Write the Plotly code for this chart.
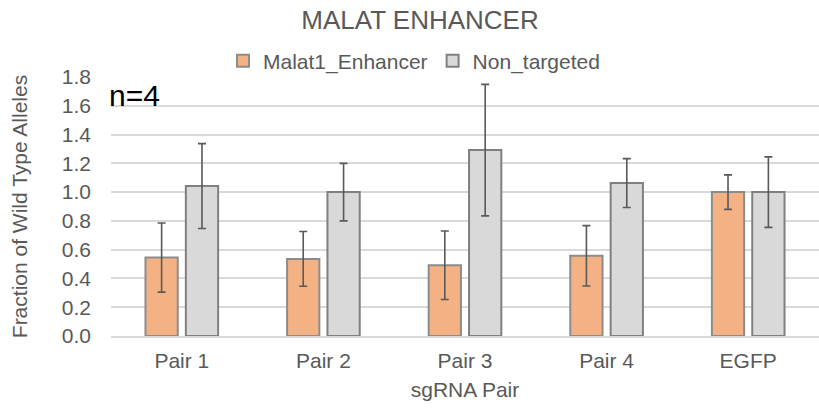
import plotly.graph_objects as go

categories = ["Pair 1", "Pair 2", "Pair 3", "Pair 4", "EGFP"]
malat_vals = [0.545, 0.536, 0.492, 0.557, 1.0]
malat_err = [0.24, 0.19, 0.238, 0.21, 0.12]
nt_vals = [1.042, 1.0, 1.292, 1.063, 1.0]
nt_err = [0.295, 0.2, 0.457, 0.17, 0.245]
y_ticks = [0.0, 0.2, 0.4, 0.6, 0.8, 1.0, 1.2, 1.4, 1.6, 1.8]

FONT = "Liberation Sans, Arial, sans-serif"
GREY = "#595959"

fig = go.Figure()
fig.add_trace(go.Bar(
    name="Malat1_Enhancer", x=categories, y=malat_vals,
    marker=dict(color="#F4B183", line=dict(color="#8C8C8C", width=2)),
    error_y=dict(type="data", array=malat_err, color=GREY, thickness=1.6, width=4),
))
fig.add_trace(go.Bar(
    name="Non_targeted", x=categories, y=nt_vals,
    marker=dict(color="#D9D9D9", line=dict(color="#808080", width=2)),
    error_y=dict(type="data", array=nt_err, color=GREY, thickness=1.6, width=4),
))

fig.update_layout(
    width=819, height=412,
    margin=dict(l=111, r=0, t=77, b=76, autoexpand=False),
    paper_bgcolor="white", plot_bgcolor="white",
    barmode="group", bargap=0.43, bargroupgap=0.2,
    font=dict(family=FONT, color=GREY, size=20),
    title=dict(text="MALAT ENHANCER", x=420/819, xref="container", xanchor="center",
               y=1 - 20/412, yref="container", yanchor="middle",
               font=dict(size=26, color=GREY, family=FONT)),
    legend=dict(orientation="h", x=414/819, xanchor="center", xref="container",
                y=1 - 61/412, yref="container", yanchor="middle",
                font=dict(size=21, color=GREY, family=FONT),
                itemwidth=30, tracegroupgap=0),
    showlegend=True,
    xaxis=dict(showgrid=False, showline=True, linecolor="#D9D9D9", linewidth=2,
               ticks="", tickfont=dict(size=21, color=GREY), ticklabelstandoff=5,
               automargin=False,
               title=dict(text="sgRNA Pair", font=dict(size=21, color=GREY), standoff=11)),
    yaxis=dict(range=[0, 1.8], tickvals=y_ticks, ticktext=[f"{v:.1f}" for v in y_ticks],
               showgrid=True, gridcolor="#D9D9D9", gridwidth=1.5, zeroline=False,
               showline=False, ticks="", tickfont=dict(size=21, color=GREY), ticklabelstandoff=19,
               automargin=False,
               title=dict(text="Fraction of Wild Type Alleles", font=dict(size=21, color=GREY), standoff=28)),
    annotations=[dict(text="n=4", x=0, xref="paper", xanchor="left", xshift=-4, y=0.93, yref="paper",
                      yanchor="middle", showarrow=False, font=dict(size=30, color="black", family=FONT))],
)

fig.write_html("out.html", config={"displayModeBar": False},
               post_script="document.body.style.margin='0';")
